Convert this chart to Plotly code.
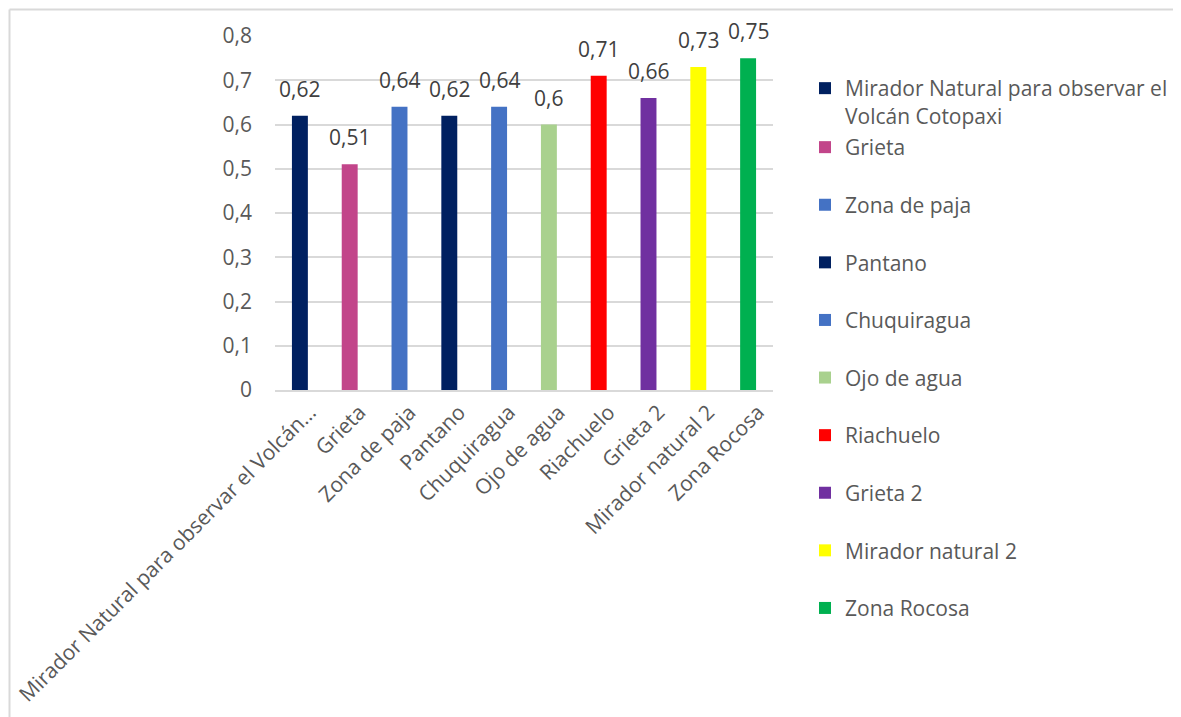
import plotly.graph_objects as go

categories = ["Mirador Natural para observar el Volcán Cotopaxi", "Grieta", "Zona de paja",
              "Pantano", "Chuquiragua", "Ojo de agua", "Riachuelo", "Grieta 2",
              "Mirador natural 2", "Zona Rocosa"]
values = [0.62, 0.51, 0.64, 0.62, 0.64, 0.60, 0.71, 0.66, 0.73, 0.75]
tick_labels = ["Mirador Natural para observar el Volcán…", "Grieta", "Zona de paja",
               "Pantano", "Chuquiragua", "Ojo de agua", "Riachuelo", "Grieta 2",
               "Mirador natural 2", "Zona Rocosa"]
legend_names = ["Mirador Natural para observar el<br>Volcán Cotopaxi", "Grieta", "Zona de paja",
                "Pantano", "Chuquiragua", "Ojo de agua", "Riachuelo", "Grieta 2",
                "Mirador natural 2", "Zona Rocosa"]
colors = ["#002060", "#C2458A", "#4472C4", "#002060", "#4472C4", "#A9D18E",
          "#FF0000", "#7030A0", "#FFFF00", "#00B050"]
value_labels = [f"{v:g}".replace(".", ",") for v in values]

FONT = "Open Sans"
FS = 21
TXT = "#595959"
OFF = 8  # page body margin
W, H = 1181, 717
# target plot area on screen: x 275..773, y 36..390
L = 275 - OFF
T = 36 - OFF
R = W - (773 - OFF)
B = H - (390 - OFF)
pw, ph = W - L - R, H - T - B


def px(sx):
    return (sx - OFF - L) / pw


def py(sy):
    return (H - B - (sy - OFF)) / ph


fig = go.Figure()
for i, (c, v) in enumerate(zip(categories, values)):
    fig.add_trace(go.Bar(
        x=[c], y=[v], name=legend_names[i], legendgroup=f"g{i}",
        legend="legend" if i == 0 else "legend2",
        marker=dict(color=colors[i], line=dict(width=0)),
        width=0.32,
        hoverinfo="x+y",
    ))

annotations = [
    dict(x=c, y=v, xref="x", yref="y", text=t, showarrow=False,
         yanchor="bottom", yshift=11,
         font=dict(family=FONT, size=FS, color="#404040"))
    for c, v, t in zip(categories, values, value_labels)
]

fig.update_layout(
    width=W, height=H,
    margin=dict(l=L, r=R, t=T, b=B, pad=0, autoexpand=False),
    paper_bgcolor="white", plot_bgcolor="white",
    barmode="overlay",
    separators=", ",
    font=dict(family=FONT, size=FS, color=TXT),
    showlegend=True,
    legend=dict(x=px(805), y=py(68), xanchor="left", yanchor="top",
                font=dict(family=FONT, size=FS, color=TXT),
                valign="top", itemwidth=30, bgcolor="rgba(0,0,0,0)",
                maxheight=700),
    legend2=dict(x=px(805), y=py(127), xanchor="left", yanchor="top",
                 font=dict(family=FONT, size=FS, color=TXT),
                 tracegroupgap=27.3, itemwidth=30, bgcolor="rgba(0,0,0,0)",
                 maxheight=700),
    xaxis=dict(categoryorder="array", categoryarray=categories,
               tickvals=categories, ticktext=tick_labels, tickangle=-45,
               showgrid=False, showline=True, linecolor="#D9D9D9", linewidth=1.5,
               ticks="", automargin=False, ticklabelshift=10,
               tickfont=dict(family=FONT, size=FS, color=TXT)),
    yaxis=dict(range=[0, 0.8], dtick=0.1, showgrid=True, gridcolor="#D9D9D9",
               gridwidth=1.5, zeroline=False, showline=False, ticks="",
               ticklabelstandoff=22, automargin=False,
               tickfont=dict(family=FONT, size=FS, color=TXT)),
    annotations=annotations,
    shapes=[
        dict(type="line", xref="paper", yref="paper",
             x0=px(9.5), x1=px(1200), y0=py(9.5), y1=py(9.5),
             line=dict(color="#D9D9D9", width=2), layer="below"),
        dict(type="line", xref="paper", yref="paper",
             x0=px(9.5), x1=px(9.5), y0=py(9.5), y1=py(730),
             line=dict(color="#D9D9D9", width=2), layer="below"),
    ],
)

fig.write_html("out.html")
